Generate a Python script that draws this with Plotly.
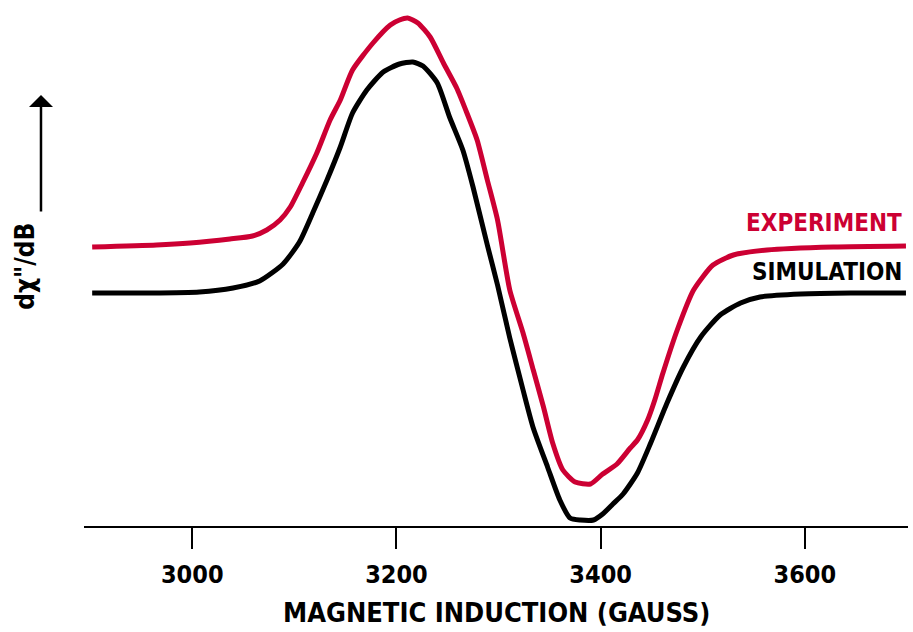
import plotly.graph_objects as go

# Magnetic induction (gauss) and derivative signal (arbitrary units, offset for display)
sim_field = [2902, 2958, 3007, 3040, 3066, 3089, 3105, 3118, 3132, 3145, 3157, 3171,
             3187, 3203, 3216, 3226, 3240, 3252, 3265, 3275, 3289, 3299, 3311, 3324,
             3334, 3348, 3360, 3370, 3380, 3393, 3402, 3412, 3422, 3436, 3449, 3465,
             3481, 3498, 3517, 3537, 3556, 3596, 3645, 3699]
sim_signal = [233, 233, 234, 238, 245, 262, 284, 313, 346, 379, 413, 436,
              454, 462, 464, 460, 443, 409, 376, 339, 281, 241, 188, 136,
              98, 59, 26, 8, 6, 6, 12, 22, 32, 53, 83, 123,
              159, 189, 211, 223, 229, 232, 233, 233]

exp_field = [2902, 2965, 2998, 3037, 3059, 3073, 3086, 3096, 3108, 3122, 3135, 3145,
             3157, 3177, 3194, 3203, 3211, 3221, 3233, 3246, 3259, 3269, 3279, 3289,
             3299, 3311, 3324, 3334, 3344, 3353, 3363, 3375, 3390, 3402, 3416, 3429,
             3436, 3446, 3453, 3461, 3475, 3491, 3510, 3530, 3563, 3628, 3699]
exp_signal = [279, 281, 283, 287, 290, 296, 306, 319, 343, 373, 406, 426,
              456, 483, 501, 506, 508, 503, 489, 463, 438, 413, 386, 346,
              306, 236, 193, 156, 119, 83, 56, 44, 42, 52, 62, 78,
              86, 106, 126, 153, 196, 236, 261, 271, 276, 279, 280]

tick_values = [3000, 3200, 3400, 3600]
tick_text = ["3000", "3200", "3400", "3600"]

RED = "#CC0033"
FONT = "DejaVu Sans Condensed, DejaVu Sans, sans-serif"

fig = go.Figure()
fig.add_trace(go.Scatter(x=sim_field, y=sim_signal, mode="lines",
                         line=dict(color="black", width=5, shape="spline", smoothing=0.6),
                         name="SIMULATION", hoverinfo="skip"))
fig.add_trace(go.Scatter(x=exp_field, y=exp_signal, mode="lines",
                         line=dict(color=RED, width=5, shape="spline", smoothing=0.6),
                         name="EXPERIMENT", hoverinfo="skip"))

fig.update_layout(
    width=913, height=632,
    margin=dict(l=84, r=5, t=0, b=106),
    paper_bgcolor="white", plot_bgcolor="white",
    showlegend=False,
    font=dict(family=FONT, color="black"),
)

fig.update_xaxes(
    range=[2894, 3701],
    tickmode="array", tickvals=tick_values, ticktext=tick_text,
    showline=True, linecolor="black", linewidth=2,
    ticks="outside", ticklen=21, tickwidth=1.5, tickcolor="black",
    tickfont=dict(family=FONT, size=25, color="black", weight="bold"),
    ticklabelstandoff=4,
    showgrid=False, zeroline=False,
)
fig.update_yaxes(range=[0, 526], visible=False, showgrid=False, zeroline=False)

# axis title
fig.add_annotation(text="<b>MAGNETIC INDUCTION (GAUSS)</b>", xref="paper", yref="paper",
                   x=0.5, y=-0.1635, xanchor="center", yanchor="middle", showarrow=False,
                   font=dict(family=FONT, size=27, color="black"))

# series labels
fig.add_annotation(text="<b>EXPERIMENT</b>", xref="paper", yref="y",
                   x=0.995, y=303, xanchor="right", yanchor="middle", showarrow=False,
                   font=dict(family=FONT, size=24, color=RED))
fig.add_annotation(text="<b>SIMULATION</b>", xref="paper", yref="y",
                   x=0.995, y=254, xanchor="right", yanchor="middle", showarrow=False,
                   font=dict(family=FONT, size=24, color="black"))

# vertical signal label with an upward arrow
fig.add_annotation(text="<b>dχ\"/dB</b>", xref="paper", yref="paper",
                   x=-0.072, y=0.494, xanchor="center", yanchor="middle", showarrow=False,
                   textangle=-90, font=dict(family=FONT, size=26, color="black"))
fig.add_annotation(text="", xref="paper", yref="paper", x=-0.0522, y=0.8194,
                   ax=0, ay=118, showarrow=True, arrowhead=1, arrowsize=1.6,
                   arrowwidth=2.5, arrowcolor="black")

fig.write_html("out.html")
